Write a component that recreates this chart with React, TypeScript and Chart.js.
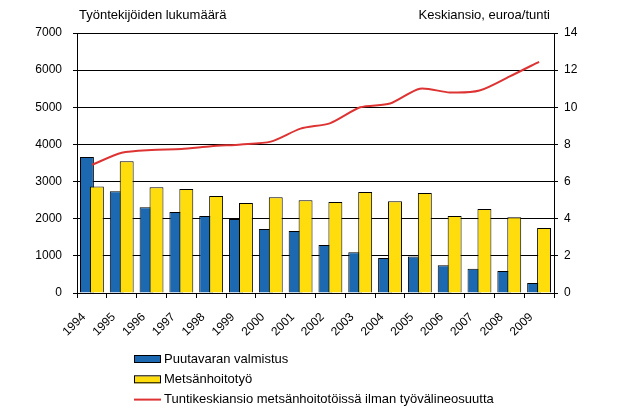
import { useEffect, useRef } from "react";
import { Chart, registerables } from "chart.js";

Chart.register(...registerables);

const years = ["1994", "1995", "1996", "1997", "1998", "1999", "2000", "2001", "2002", "2003", "2004", "2005", "2006", "2007", "2008", "2009"];
const puutavara = [3660, 2740, 2310, 2180, 2070, 1990, 1720, 1670, 1290, 1100, 940, 980, 750, 650, 590, 270];
const metsanhoito = [2870, 3550, 2850, 2800, 2610, 2420, 2580, 2500, 2450, 2720, 2470, 2690, 2070, 2260, 2040, 1750];
const tuntiansio = [6.9, 7.55, 7.7, 7.75, 7.9, 8.0, 8.15, 8.85, 9.15, 10.0, 10.2, 11.0, 10.8, 10.9, 11.65, 12.45];

const leftTitle = "Työntekijöiden lukumäärä";
const rightTitle = "Keskiansio, euroa/tunti";
const FONT = "'Liberation Sans', Arial, sans-serif";

// yellow bars overlap the blue ones: skip the normal pass for dataset 1
// and draw it right after dataset 0 instead
let drawingYellow = false;
const overlapPlugin = {
  id: "overlap",
  beforeDatasetDraw(_chart: any, args: any) {
    if (args.index === 1 && !drawingYellow) return false;
  },
  afterDatasetDraw(chart: any, args: any) {
    if (args.index === 0) {
      drawingYellow = true;
      chart.getDatasetMeta(1).controller.draw();
      drawingYellow = false;
    }
  },
};

// axis titles + one-item-per-row legend drawn straight onto the canvas
const extrasPlugin = {
  id: "extras",
  afterDraw(chart: any) {
    const { ctx, chartArea } = chart;
    ctx.save();
    ctx.font = `13px ${FONT}`;
    ctx.fillStyle = "#000";
    ctx.textBaseline = "middle";
    ctx.textAlign = "left";
    ctx.fillText(leftTitle, chartArea.left + 2, 15);
    ctx.textAlign = "right";
    ctx.fillText(rightTitle, chartArea.right - 4, 15);

    const lx = 134;
    const ly = 359;
    const row = 20.3;
    ctx.textAlign = "left";
    chart.data.datasets.forEach((ds: any, i: number) => {
      const y = ly + i * row;
      if (ds.type === "line") {
        ctx.strokeStyle = ds.borderColor;
        ctx.lineWidth = 2;
        ctx.beginPath();
        ctx.moveTo(lx, y);
        ctx.lineTo(lx + 27, y);
        ctx.stroke();
      } else {
        ctx.fillStyle = ds.backgroundColor;
        ctx.fillRect(lx, y - 3, 27, 7);
        ctx.strokeStyle = "#000";
        ctx.lineWidth = 1;
        ctx.strokeRect(lx + 0.5, y - 3.5, 26, 7);
      }
      ctx.fillStyle = "#000";
      ctx.fillText(ds.label, lx + 30, y);
    });
    ctx.restore();
  },
};

export default function App() {
  const chartRef = useRef<HTMLCanvasElement>(null);
  const chartInstanceRef = useRef<Chart | null>(null);

  useEffect(() => {
    document.body.style.margin = "0";
    if (!chartRef.current) return;
    if (chartInstanceRef.current) chartInstanceRef.current.destroy();

    Chart.defaults.font.family = FONT;
    Chart.defaults.font.size = 12;
    Chart.defaults.color = "#000";

    chartInstanceRef.current = new Chart(chartRef.current, {
      type: "bar",
      data: {
        labels: years,
        datasets: [
          {
            type: "bar",
            label: "Puutavaran valmistus",
            data: puutavara,
            backgroundColor: "#1c69b2",
            borderColor: "#000",
            borderWidth: 1,
            yAxisID: "y",
            order: 1,
            barPercentage: 1.4,
            categoryPercentage: 0.667,
          },
          {
            type: "bar",
            label: "Metsänhoitotyö",
            data: metsanhoito,
            backgroundColor: "#ffdd0d",
            borderColor: "#000",
            borderWidth: 1,
            yAxisID: "y",
            order: 2,
            barPercentage: 1.4,
            categoryPercentage: 0.667,
          },
          {
            type: "line",
            label: "Tuntikeskiansio metsänhoitotöissä ilman työvälineosuutta",
            data: tuntiansio,
            borderColor: "#dd3333",
            borderWidth: 2,
            pointRadius: 0,
            tension: 0.25,
            yAxisID: "y1",
            order: 0,
          },
        ],
      },
      options: {
        animation: false,
        responsive: true,
        maintainAspectRatio: false,
        layout: { padding: { top: 33, left: 0, right: 0, bottom: 0 } },
        plugins: {
          legend: { display: false },
          tooltip: { enabled: false },
        },
        scales: {
          x: {
            grid: { offset: true, drawOnChartArea: false, color: "#000", tickLength: 5 },
            border: { color: "#000" },
            ticks: { minRotation: 45, maxRotation: 45, autoSkip: false, labelOffset: -8, padding: 12 },
            afterFit: (s: any) => {
              s.height = 125;
            },
          },
          y: {
            position: "left",
            min: 0,
            max: 7000,
            ticks: { stepSize: 1000, padding: 11, callback: (v: any) => String(v) },
            grid: { color: "#000", tickLength: 4 },
            border: { color: "#000" },
            afterFit: (s: any) => {
              s.width = 77;
            },
          },
          y1: {
            position: "right",
            min: 0,
            max: 14,
            ticks: { stepSize: 2, padding: 6, callback: (v: any) => String(v) },
            grid: { drawOnChartArea: false, color: "#000", tickLength: 4 },
            border: { color: "#000" },
            afterFit: (s: any) => {
              s.width = 63;
            },
          },
        },
      },
      plugins: [overlapPlugin, extrasPlugin],
    });

    return () => {
      if (chartInstanceRef.current) {
        chartInstanceRef.current.destroy();
        chartInstanceRef.current = null;
      }
    };
  }, []);

  return (
    <div style={{ position: "relative", width: "617px", height: "418px" }}>
      <canvas ref={chartRef}></canvas>
    </div>
  );
}
